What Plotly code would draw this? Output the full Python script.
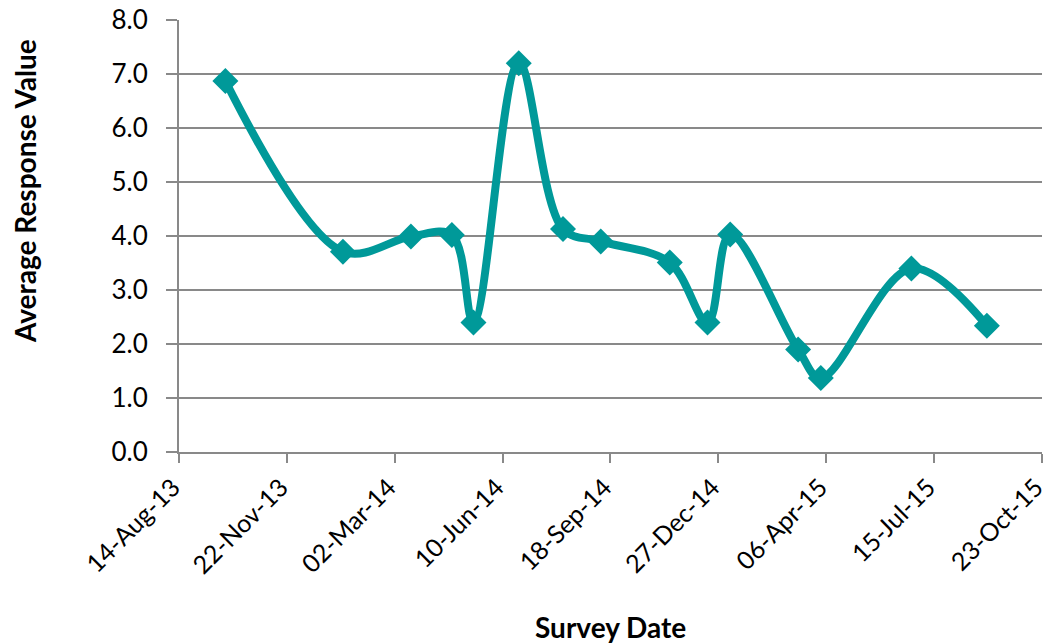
import plotly.graph_objects as go

survey_dates = ["2013-09-26", "2014-01-13", "2014-03-17", "2014-04-24", "2014-05-14",
                "2014-06-25", "2014-08-05", "2014-09-09", "2014-11-12", "2014-12-17",
                "2015-01-07", "2015-03-11", "2015-04-01", "2015-06-24", "2015-09-02"]
avg_response = [6.87, 3.71, 3.99, 4.02, 2.40, 7.20, 4.13, 3.90, 3.51, 2.40,
                4.03, 1.90, 1.37, 3.40, 2.34]

teal = "#009999"
grid = "#898989"
font_family = "Lato, 'Open Sans', sans-serif"

W, H = 1049, 644
L, R, T, B = 179, 7, 20, 192
plot_h = H - T - B

fig = go.Figure()
fig.add_trace(go.Scatter(
    x=survey_dates, y=avg_response, mode="lines+markers",
    line=dict(color=teal, width=8, shape="spline", smoothing=1),
    marker=dict(symbol="diamond", size=20, color=teal),
    showlegend=False, cliponaxis=False,
))

fig.update_layout(
    width=W, height=H,
    margin=dict(l=L, r=R, t=T, b=B),
    paper_bgcolor="white", plot_bgcolor="white",
    font=dict(family=font_family, color="#000000", size=26),
    xaxis=dict(
        type="date",
        range=["2013-08-14", "2015-10-23 02:00"],
        tick0="2013-08-14", dtick=100 * 86400000,
        tickformat="%d-%b-%y", tickangle=-45,
        ticks="outside", ticklen=9, tickwidth=2, tickcolor=grid,
        showline=True, linecolor=grid, linewidth=2,
        showgrid=False, zeroline=False, automargin=False,
        ticklabeloverflow="allow", ticklabelshift=-6,
        tickfont=dict(size=25),
    ),
    yaxis=dict(
        range=[0, 8.0005], tick0=0, dtick=1, tickformat=".1f",
        ticks="outside", ticklen=11, tickwidth=2, tickcolor=grid,
        showline=True, linecolor=grid, linewidth=2,
        showgrid=True, gridcolor=grid, gridwidth=2,
        zeroline=False, automargin=False,
        ticklabelstandoff=13, ticklabeloverflow="allow",
        tickfont=dict(size=26),
    ),
    annotations=[
        dict(text="<b>Average Response Value</b>", xref="paper", yref="paper",
             x=0, y=(H - B - 191) / plot_h, xshift=25 - L, textangle=-90,
             xanchor="center", yanchor="middle", showarrow=False,
             font=dict(size=28)),
        dict(text="<b>Survey Date</b>", xref="paper", yref="paper",
             x=0.5, y=0, yshift=-(627 - (H - B)),
             xanchor="center", yanchor="middle", showarrow=False,
             font=dict(size=28)),
    ],
)

fig.write_html("out.html", config={"displayModeBar": False},
               post_script="document.body.style.margin='0';")
